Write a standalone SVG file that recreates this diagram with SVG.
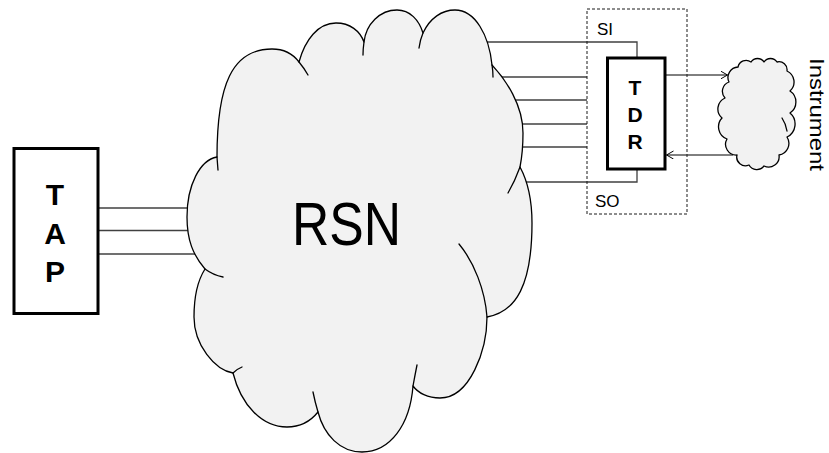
<svg xmlns="http://www.w3.org/2000/svg" width="829" height="453" viewBox="0 0 829 453">
<style>
.ln{stroke:#404040;stroke-width:1.3;fill:none}
.ar{stroke:#000;stroke-width:1;fill:none}
.cloud{fill:#f2f2f2;stroke:#000;stroke-width:1.3;stroke-linejoin:round}
.inner{fill:none;stroke:#000;stroke-width:1.3;stroke-linecap:round}
.box{fill:#fff;stroke:#000;stroke-width:3}
.dash{fill:none;stroke:#1a1a1a;stroke-width:1;stroke-dasharray:3 2}
.t{font-family:"Liberation Sans",Arial,sans-serif;fill:#000}
.b{font-weight:bold;text-anchor:middle}
</style>
<defs>
<marker id="open" markerUnits="userSpaceOnUse" markerWidth="9" markerHeight="10" refX="7" refY="4" orient="auto">
<path d="M0,0 L7,4 L0,8" fill="none" stroke="#000" stroke-width="1"/>
</marker>
</defs>
<g id="connectors">
<line class="ln" x1="98" y1="208" x2="200" y2="208"/>
<line class="ln" x1="98" y1="230.5" x2="200" y2="230.5"/>
<line class="ln" x1="98" y1="254" x2="200" y2="254"/>
<polyline class="ln" points="470,42 637,42 637,57"/>
<line class="ln" x1="490" y1="77" x2="587" y2="77"/>
<line class="ln" x1="500" y1="100" x2="587" y2="100"/>
<line class="ln" x1="500" y1="124" x2="587" y2="124"/>
<line class="ln" x1="500" y1="147" x2="587" y2="147"/>
<polyline class="ln" points="500,182 637,182 637,170"/>
<line class="ar" x1="666" y1="75" x2="727.5" y2="75" marker-end="url(#open)"/>
<line class="ar" x1="733" y1="155" x2="666.5" y2="155" marker-end="url(#open)"/>
</g>
<g id="tdr-boundary">
<rect class="dash" x="587" y="9" width="100" height="205"/>
<text class="t" x="597" y="35" font-size="17">SI</text>
<text class="t" x="595" y="206.5" font-size="17">SO</text>
</g>
<g id="rsn">
<path class="cloud" d="M217,157 C217,85 232,49 272,49 C284,49 293,54 299,62 C305,40 318,23 336,23 C350,23 360,31 364,42 C366,24 380,10 397,10 C410,10 419,20 423,33 C430,18 442,10 455,10 C475,10 489,35 492,65 C506,80 523,105 523,133 C523,146 522,157 520,167 C527,180 532,200 532,223 C532,285 516,312 487,317 C487,350 470,398 440,398 C428,398 418,393 413,386 C410,425 390,452 362,452 C340,452 324,435 318,412 C310,422 300,427 287,427 C262,427 241,405 233,373 C215,370 194,345 194,317 C194,295 198,280 205,269 C193,255 187,240 187,217 C187,185 200,160 217,157 Z"/>
<path class="inner" d="M217,157 Q217.5,164 218,170 M299,62 Q304,68 308,75 M364,42 Q363,49 363,55 M423,33 Q420,40 419,48 M492,65 Q493,71 493,77 M520,167 Q515,181 508,193 M459,244 C474,262 485,290 487,317 M413,386 Q415,375 417,365 M318,412 Q315,402 313,392 M233,373 Q237,369 242,367 M205,269 Q213,275 223,277"/>
<text class="t" x="292" y="245" font-size="62" textLength="109" lengthAdjust="spacingAndGlyphs">RSN</text>
</g>
<g id="tap">
<rect class="box" x="14" y="148.5" width="84" height="165"/>
<text class="t b" x="55" y="205" font-size="30">T</text>
<text class="t b" x="55" y="243.5" font-size="30">A</text>
<text class="t b" x="55" y="281.5" font-size="30">P</text>
</g>
<g id="tdr">
<rect class="box" x="607.5" y="58" width="57.5" height="111"/>
<text class="t b" x="635" y="95" font-size="21">T</text>
<text class="t b" x="635" y="122" font-size="21">D</text>
<text class="t b" x="635" y="149" font-size="21">R</text>
</g>
<g id="instrument">
<path class="cloud" stroke-width="1.5" d="M729,82 A10.5,10.5 0 0 1 738,67 A8.3,8.3 0 0 1 751,62 A7.8,7.8 0 0 1 764,62 A7.8,7.8 0 0 1 777,62 A8.1,8.1 0 0 1 787,71 A12.1,12.1 0 0 1 790,91 A13.2,13.2 0 0 1 790,113 A14.5,14.5 0 0 1 787,137 A11.8,11.8 0 0 1 779,155 A10.5,10.5 0 0 1 764,166 A9,9 0 0 1 749,165 A8.7,8.7 0 0 1 737,155 A10.7,10.7 0 0 1 727,139 A13,13 0 0 1 722,118 A12,12 0 0 1 725,98 A9.9,9.9 0 0 1 729,82 Z"/>
<path class="inner" stroke-width="1.3" d="M782,118 Q786,124 787,131"/>
<text class="t" transform="translate(810,58) rotate(90)" font-size="21" textLength="113" lengthAdjust="spacingAndGlyphs">Instrument</text>
</g>
</svg>
